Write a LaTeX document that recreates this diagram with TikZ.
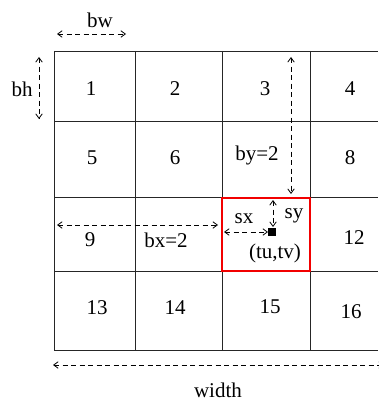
\documentclass[tikz,border=0pt]{standalone}
\usepackage{fontspec}
\setmainfont{Liberation Serif}
\usetikzlibrary{arrows.meta}
\begin{document}
\begin{tikzpicture}[x=1pt,y=-1pt,
  grid/.style={line width=0.9pt,draw=black!85},
  dim/.style={line width=0.8pt,dash pattern=on 5pt off 3.5pt,{Straight Barb[length=4.5pt,width=6.5pt]}-{Straight Barb[length=4.5pt,width=6.5pt]}},
  lab/.style={inner sep=0pt,font=\fontsize{21}{24}\selectfont}]
\useasboundingbox (0,0) rectangle (378,401);
% grid
\foreach \y in {51,121,197,271,350} \draw[grid] (54,\y) -- (378,\y);
\foreach \x in {54,135,222,310} \draw[grid] (\x,51) -- (\x,350);
\draw[line width=2.6pt,draw=red!95!black] (222,198) rectangle (310,271);
% numbers
\node[lab] (n1) at (91,89) {1};
\node[lab] (n2) at (175,89) {2};
\node[lab] (n3) at (265,89) {3};
\node[lab] (n4) at (350,89) {4};
\node[lab] (n5) at (92,158) {5};
\node[lab] (n6) at (175,158) {6};
\node[lab] (by) at (257,155) {by=2};
\node[lab] (n8) at (350,158) {8};
\node[lab] (n9) at (90,240) {9};
\node[lab] (bx) at (166,240) {bx=2};
\node[lab] (n12) at (354,238) {12};
\node[lab] (n13) at (97,308) {13};
\node[lab] (n14) at (175,308) {14};
\node[lab] (n15) at (270,307) {15};
\node[lab] (n16) at (351,312) {16};
\node[lab] (bw) at (100,20) {bw};
\node[lab] (bh) at (22,89) {bh};
\node[lab] (sx) at (244,219) {sx};
\node[lab] (sy) at (294,216) {sy};
\node[lab] (tutv) at (275,253) {(tu,tv)};
\node[lab] (wd) at (218,390) {width};
% dimension coordinates
\coordinate (bwL) at (57,34); \coordinate (bwR) at (126,34);
\coordinate (bhT) at (39,57); \coordinate (bhB) at (39,119);
\coordinate (byT) at (291,57); \coordinate (byB) at (291,194);
\coordinate (bxL) at (57,225); \coordinate (bxR) at (218,225);
\coordinate (sxL) at (224,232); \coordinate (sxR) at (268,232);
\coordinate (syT) at (273,200); \coordinate (syB) at (273,227);
\coordinate (wL) at (53,365); \coordinate (wR) at (384,365);
\draw[dim] (bwL) -- (bwR);
\draw[dim] (bhT) -- (bhB);
\draw[dim] (byT) -- (byB);
\draw[dim] (bxL) -- (bxR);
\draw[dim] (sxL) -- (sxR);
\draw[dim] (syT) -- (syB);
\draw[dim] (wL) -- (wR);
\fill (268,228) rectangle (276,236);
\end{tikzpicture}
\end{document}
